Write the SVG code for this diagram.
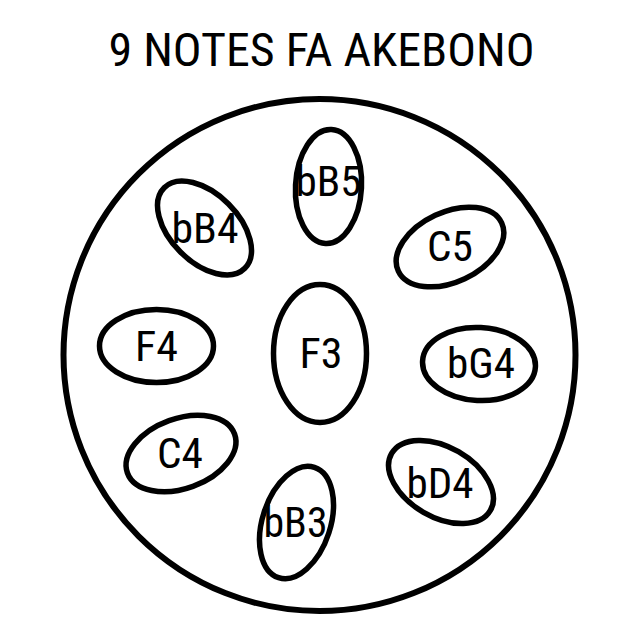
<svg xmlns="http://www.w3.org/2000/svg" width="640" height="640" viewBox="0 0 640 640">
<style>
.shape{fill:none;stroke:#000;stroke-width:5.5}
.rim{fill:none;stroke:#000;stroke-width:6}
text{font-family:"Roboto Condensed",Roboto,"Liberation Sans",sans-serif;fill:#000;text-anchor:middle}
.lbl{font-size:43px}
.title{font-size:46px}
</style>
<rect width="640" height="640" fill="#fff"/>
<text class="title" x="321.5" y="66" textLength="426" lengthAdjust="spacingAndGlyphs">9 NOTES FA AKEBONO</text>
<g id="drum"><circle class="rim" cx="319.5" cy="355" r="256"/></g>
<g id="connectors"></g>
<g id="n-bB5"><ellipse class="shape" cx="328.5" cy="186.5" rx="33" ry="57" transform="rotate(3 328.5 186.5)"/><text class="lbl" x="328.5" y="196" textLength="66" lengthAdjust="spacingAndGlyphs">bB5</text></g>
<g id="n-bB4"><ellipse class="shape" cx="204.5" cy="228" rx="34" ry="57" transform="rotate(-45 204.5 228)"/><text class="lbl" x="205" y="243" textLength="67" lengthAdjust="spacingAndGlyphs">bB4</text></g>
<g id="n-C5"><ellipse class="shape" cx="450" cy="247" rx="57" ry="35" transform="rotate(-25 450 247)"/><text class="lbl" x="450" y="261" textLength="46" lengthAdjust="spacingAndGlyphs">C5</text></g>
<g id="n-bG4"><ellipse class="shape" cx="479" cy="364" rx="56.5" ry="36.5" transform="rotate(3 479 364)"/><text class="lbl" x="481" y="378" textLength="68" lengthAdjust="spacingAndGlyphs">bG4</text></g>
<g id="n-F4"><ellipse class="shape" cx="156.5" cy="346" rx="57" ry="36.5"/><text class="lbl" x="156.5" y="361" textLength="43" lengthAdjust="spacingAndGlyphs">F4</text></g>
<g id="n-F3"><ellipse class="shape" cx="320" cy="353.5" rx="46.5" ry="69"/><text class="lbl" x="321" y="367.5" textLength="43" lengthAdjust="spacingAndGlyphs">F3</text></g>
<g id="n-C4"><ellipse class="shape" cx="181" cy="453.5" rx="57" ry="35" transform="rotate(-20 181 453.5)"/><text class="lbl" x="180" y="468" textLength="46" lengthAdjust="spacingAndGlyphs">C4</text></g>
<g id="n-bB3"><ellipse class="shape" cx="296.5" cy="522.5" rx="34" ry="58" transform="rotate(18 296.5 522.5)"/><text class="lbl" x="295.5" y="537" textLength="64" lengthAdjust="spacingAndGlyphs">bB3</text></g>
<g id="n-bD4"><ellipse class="shape" cx="441" cy="482" rx="57" ry="35" transform="rotate(30 441 482)"/><text class="lbl" x="440" y="498" textLength="67" lengthAdjust="spacingAndGlyphs">bD4</text></g>
</svg>
